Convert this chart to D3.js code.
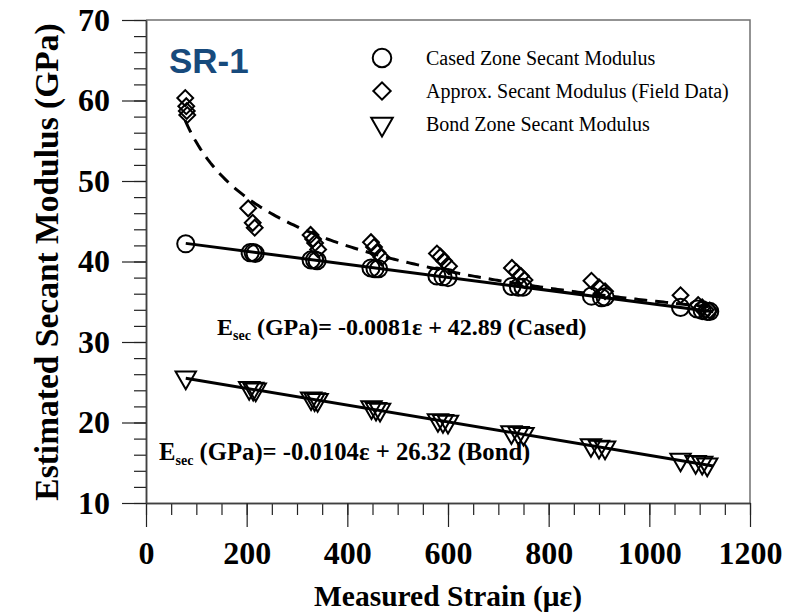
<!DOCTYPE html>
<html>
<head>
<meta charset="utf-8">
<script src="https://cdn.jsdelivr.net/npm/d3@7"></script>
<style>
  html, body { margin: 0; padding: 0; background: #fff; }
  svg { display: block; }
  .serif { font-family: "Liberation Serif", "Times New Roman", serif; }
</style>
</head>
<body>
<svg id="chart" width="795" height="614"></svg>
<script>
// Cased zone secant modulus (circles): [strain, modulus]
var casedStrain  = [79, 207, 213, 217, 328, 335, 340, 447, 455, 462, 578, 590, 600, 727, 740, 749, 885, 905, 912, 1062, 1095, 1105, 1115, 1120];
var casedModulus = [42.2, 41.1, 41.1, 41.0, 40.2, 40.2, 40.1, 39.2, 39.1, 39.1, 38.2, 38.1, 38.0, 36.9, 36.8, 36.8, 35.7, 35.5, 35.6, 34.3, 34.1, 33.9, 33.8, 33.8];

// Approx. secant modulus from field data (diamonds)
var fieldStrain  = [78, 80, 81, 82, 203, 212, 216, 327, 332, 336, 342, 447, 453, 460, 468, 578, 585, 592, 602, 727, 736, 745, 752, 885, 900, 912, 1062, 1097, 1105, 1112, 1120];
var fieldModulus = [60.3, 59.3, 58.7, 58.2, 46.6, 44.8, 44.2, 43.3, 42.8, 42.3, 41.5, 42.4, 41.8, 41.1, 40.5, 41.0, 40.6, 40.1, 39.4, 39.2, 38.7, 38.2, 37.7, 37.6, 36.8, 36.3, 35.8, 34.6, 34.3, 34.0, 33.9];

// Bond zone secant modulus (triangles)
var bondStrain  = [79, 205, 213, 218, 328, 335, 341, 448, 457, 465, 580, 590, 600, 726, 740, 750, 884, 900, 912, 1062, 1092, 1105, 1115];
var bondModulus = [25.6, 24.3, 24.2, 24.1, 23.0, 22.9, 22.8, 21.9, 21.7, 21.6, 20.3, 20.2, 20.1, 18.8, 18.7, 18.6, 17.2, 17.0, 16.9, 15.4, 15.1, 15.0, 14.8];

// Fit coefficients (linear ones printed on the chart, power fit)
var casedFit = [-0.0081, 42.89];
var bondFit  = [-0.0104, 26.32];
var fieldPowerFit = [133.3, -0.193];
var fitEnd = 1127;

var xMajorTicks = [0, 200, 400, 600, 800, 1000, 1200];
var yMajorTicks = [10, 20, 30, 40, 50, 60, 70];

var legendLabels = ["Cased Zone Secant Modulus", "Approx. Secant Modulus (Field Data)", "Bond Zone Secant Modulus"];

(function () {
  var svg = d3.select("#chart"),
      mLeft = 146, mRight = 750, mTop = 20, mBottom = 503;

  var x = d3.scaleLinear().domain([0, 1200]).range([mLeft, mRight]),
      y = d3.scaleLinear().domain([10, 70]).range([mBottom, mTop]);

  function pairs(xs, ys) {
    return xs.map(function (v, i) { return [v, ys[i]]; });
  }

  // frame (top and right)
  svg.append("path")
    .attr("d", "M" + mLeft + "," + mTop + "H" + mRight + "V" + mBottom)
    .attr("fill", "none").attr("stroke", "#707070").attr("stroke-width", 1.5);

  function styleAxis(g) {
    g.select(".domain").attr("stroke", "#404040").attr("stroke-width", 1.5);
    g.selectAll(".tick line").attr("stroke", "#222").attr("stroke-width", 1.2);
    g.selectAll("text")
      .attr("class", "serif")
      .style("font-size", "32px").style("font-weight", "bold").attr("fill", "#000");
  }

  // minor ticks, then major ticks with labels
  svg.append("g").attr("transform", "translate(0," + mBottom + ")")
    .call(d3.axisBottom(x).tickValues(d3.range(0, 1201, 50)).tickSize(12).tickFormat("").tickSizeOuter(0))
    .call(styleAxis);
  svg.append("g").attr("transform", "translate(0," + mBottom + ")")
    .call(d3.axisBottom(x).tickValues(xMajorTicks).tickSize(24).tickPadding(14).tickFormat(d3.format("d")).tickSizeOuter(0))
    .call(styleAxis);

  svg.append("g").attr("transform", "translate(" + mLeft + ",0)")
    .call(d3.axisLeft(y).tickValues(d3.range(10, 70.1, 2)).tickSize(12).tickFormat("").tickSizeOuter(0))
    .call(styleAxis);
  svg.append("g").attr("transform", "translate(" + mLeft + ",0)")
    .call(d3.axisLeft(y).tickValues(yMajorTicks).tickSize(24).tickPadding(12).tickSizeOuter(0))
    .call(styleAxis);

  // axis titles
  svg.append("text").attr("class", "serif")
    .attr("transform", "translate(58,262) rotate(-90)")
    .attr("text-anchor", "middle")
    .style("font-size", "33.5px").style("font-weight", "bold")
    .text("Estimated Secant Modulus (GPa)");

  svg.append("text").attr("class", "serif")
    .attr("x", 448).attr("y", 606)
    .attr("text-anchor", "middle")
    .style("font-size", "29.5px").style("font-weight", "bold")
    .text("Measured Strain (\u03bc\u03b5)");

  // fit lines
  var line = d3.line().x(function (d) { return x(d[0]); }).y(function (d) { return y(d[1]); });

  function linearFit(coef, xs) {
    return d3.extent(xs.concat([fitEnd])).map(function (v) { return [v, coef[0] * v + coef[1]]; });
  }

  svg.append("path").datum(linearFit(casedFit, casedStrain))
    .attr("d", line).attr("fill", "none").attr("stroke", "#000").attr("stroke-width", 3);
  svg.append("path").datum(linearFit(bondFit, bondStrain))
    .attr("d", line).attr("fill", "none").attr("stroke", "#000").attr("stroke-width", 3);

  var fieldExt = d3.extent(fieldStrain),
      powerPts = d3.range(fieldExt[0], fieldExt[1] + 1, 5).map(function (v) {
        return [v, fieldPowerFit[0] * Math.pow(v, fieldPowerFit[1])];
      });
  svg.append("path").datum(powerPts)
    .attr("d", line).attr("fill", "none")
    .attr("stroke", "#000").attr("stroke-width", 3).attr("stroke-dasharray", "13,8");

  // markers
  var circleSym = d3.symbol().type(d3.symbolCircle).size(230),
      diamondSym = d3.symbol().type(d3.symbolSquare).size(125),
      triSym = d3.symbol().type(d3.symbolTriangle).size(180);

  function drawMarkers(data, sym, rot) {
    svg.append("g").selectAll("path").data(data).enter().append("path")
      .attr("d", sym)
      .attr("transform", function (d) { return "translate(" + x(d[0]) + "," + y(d[1]) + ") rotate(" + rot + ")"; })
      .attr("fill", "none").attr("stroke", "#000").attr("stroke-width", 2);
  }
  drawMarkers(pairs(casedStrain, casedModulus), circleSym, 0);
  drawMarkers(pairs(fieldStrain, fieldModulus), diamondSym, 45);
  drawMarkers(pairs(bondStrain, bondModulus), triSym, 180);

  // legend
  var legendSyms = [
    [d3.symbol().type(d3.symbolCircle).size(270), 0],
    [d3.symbol().type(d3.symbolSquare).size(150), 45],
    [d3.symbol().type(d3.symbolTriangle).size(200), 180]
  ];
  var legend = svg.append("g");
  legendLabels.forEach(function (label, i) {
    var ly = 58 + i * 33;
    legend.append("path")
      .attr("d", legendSyms[i][0])
      .attr("transform", "translate(382," + ly + ") rotate(" + legendSyms[i][1] + ")")
      .attr("fill", "none").attr("stroke", "#000").attr("stroke-width", 2);
    legend.append("text").attr("class", "serif")
      .attr("x", 426).attr("y", ly + 7)
      .style("font-size", "20px")
      .text(label);
  });

  // SR-1 label
  svg.append("text")
    .attr("x", 169).attr("y", 73)
    .style("font-family", "'Liberation Sans', Arial, sans-serif")
    .style("font-size", "35px").style("font-weight", "bold")
    .attr("fill", "#174a7c")
    .text("SR-1");

  // equations
  function equation(xp, yp, rest, size) {
    var t = svg.append("text").attr("class", "serif")
      .attr("x", xp).attr("y", yp)
      .style("font-size", size + "px").style("font-weight", "bold");
    t.append("tspan").text("E");
    t.append("tspan").attr("dy", 5).style("font-size", "14px").text("sec");
    t.append("tspan").attr("dy", -5).text(rest);
  }
  equation(217, 335, " (GPa)= -0.0081\u03b5 + 42.89 (Cased)", 24);
  equation(159, 460, " (GPa)= -0.0104\u03b5 + 26.32 (Bond)", 24.7);
}());
</script>
</body>
</html>
